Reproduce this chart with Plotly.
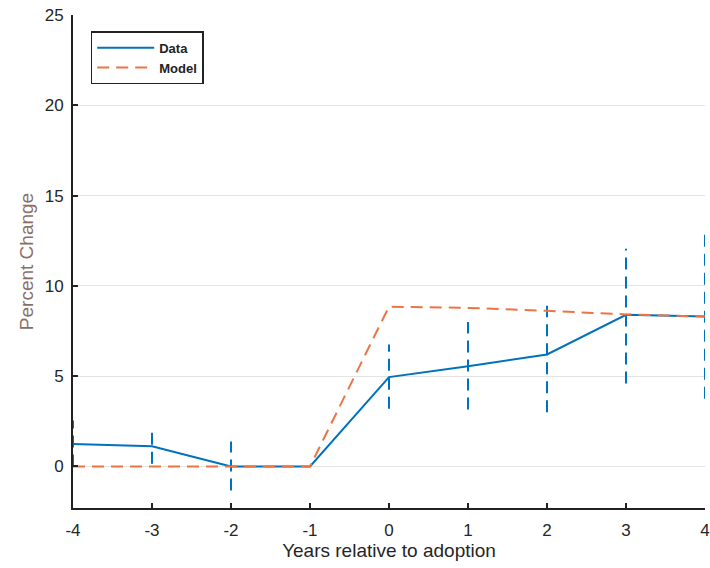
import plotly.graph_objects as go

years = [-4, -3, -2, -1, 0, 1, 2, 3, 4]
year_labels = ["-4", "-3", "-2", "-1", "0", "1", "2", "3", "4"]
data_vals = [1.25, 1.12, 0.0, 0.0, 4.95, 5.55, 6.2, 8.4, 8.3]
data_hi = [2.55, 2.1, 1.38, None, 6.75, 8.0, 8.9, 12.05, 12.85]
data_lo = [0.0, 0.15, -1.33, None, 3.2, 3.15, 3.0, 4.6, 3.75]
model_vals = [0.0, 0.0, 0.0, 0.0, 8.85, 8.78, 8.62, 8.42, 8.3]
y_ticks = [0, 5, 10, 15, 20, 25]

BLUE = "#0072BD"
ORANGE = "#EC7445"

fig = go.Figure()

# confidence intervals as dashed vertical segments
ex, ey = [], []
for x, lo, hi in zip(years, data_lo, data_hi):
    if lo is None:
        continue
    ex += [x, x, None]
    ey += [lo, hi, None]
fig.add_trace(go.Scatter(x=ex, y=ey, mode="lines", showlegend=False,
                         line=dict(color=BLUE, width=2, dash="12px,7px"),
                         cliponaxis=False, hoverinfo="skip"))

fig.add_trace(go.Scatter(x=years, y=data_vals, mode="lines", name="<b>Data</b>",
                         line=dict(color=BLUE, width=2), cliponaxis=False))
fig.add_trace(go.Scatter(x=years, y=model_vals, mode="lines", name="<b>Model</b>",
                         line=dict(color=ORANGE, width=2, dash="12px,7px"),
                         cliponaxis=False))

fig.update_layout(
    width=710, height=568,
    margin=dict(l=73, r=5, t=15, b=60),
    paper_bgcolor="white", plot_bgcolor="white",
    font=dict(family="Liberation Sans, Arial, sans-serif", size=17, color="#262626"),
    legend=dict(x=0.028, y=0.967, xanchor="left", yanchor="top",
                bordercolor="#222", borderwidth=1.5, bgcolor="white",
                font=dict(size=13, color="#222"), itemwidth=57,
                tracegroupgap=0),
    xaxis=dict(range=[-4, 4], tickvals=years, ticktext=year_labels,
               showgrid=False, zeroline=False, automargin=False,
               showline=True, linecolor="#222", linewidth=2,
               ticks="inside", ticklen=5, tickcolor="#222", tickwidth=1.5,
               ticklabelstandoff=6,
               title=dict(text="Years relative to adoption", font=dict(size=19, color="#262626"),
                          standoff=2),
               tickfont=dict(size=17)),
    yaxis=dict(range=[-2.3, 25], tickvals=y_ticks, showgrid=True,
               gridcolor="#E3E3E3", gridwidth=1, zeroline=False, automargin=False,
               showline=True, linecolor="#222", linewidth=2,
               ticks="inside", ticklen=5, tickcolor="#222", tickwidth=1.5,
               ticklabelstandoff=4,
               title=dict(text="Percent Change", font=dict(size=19, color="#8a6e66"),
                          standoff=6),
               tickfont=dict(size=17)),
)

fig.write_html("out.html")
